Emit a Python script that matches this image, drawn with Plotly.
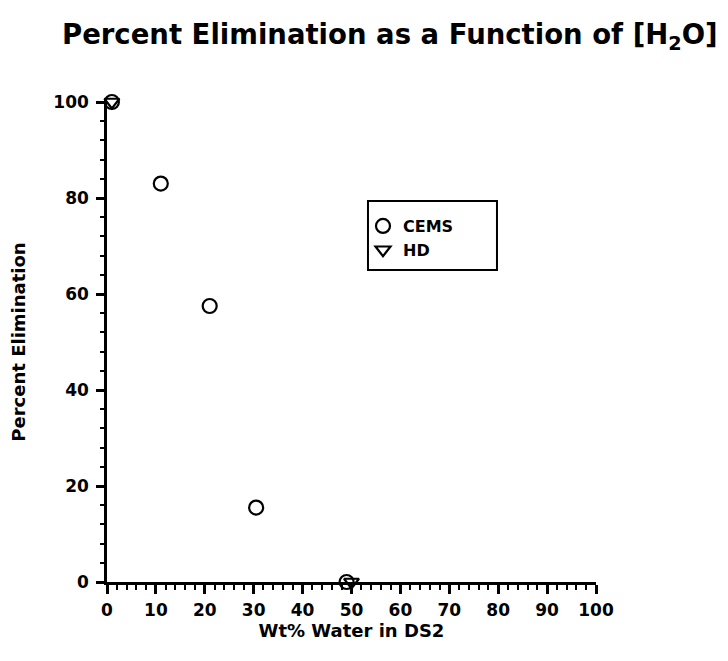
import plotly.graph_objects as go

# Data
cems_x = [1, 11, 21, 30.5, 49]
cems_y = [100, 83, 57.5, 15.5, 0]
hd_x = [1, 50]
hd_y = [100, 0]

x_ticks = [0, 10, 20, 30, 40, 50, 60, 70, 80, 90, 100]
y_ticks = [0, 20, 40, 60, 80, 100]

fig = go.Figure()
fig.add_trace(go.Scatter(
    x=cems_x, y=cems_y, mode="markers", name="CEMS",
    marker=dict(symbol="circle-open", size=14, color="black", line=dict(width=2.2)),
    cliponaxis=False,
))
fig.add_trace(go.Scatter(
    x=hd_x, y=hd_y, mode="markers", name="HD",
    marker=dict(symbol="triangle-down-open", size=13, color="black", line=dict(width=2.2)),
    cliponaxis=False,
))

tick_font = dict(family="DejaVu Sans", size=17, color="black", weight="bold")
lab_font = dict(family="DejaVu Sans", size=18, color="black", weight="bold")

fig.update_layout(
    width=720, height=653,
    paper_bgcolor="white", plot_bgcolor="white",
    margin=dict(l=99, r=132, t=94, b=79, autoexpand=False),
    title=dict(
        text="Percent Elimination as a Function of [H<sub>2</sub>O]",
        font=dict(family="DejaVu Sans", size=27.5, color="black", weight="bold"),
        x=0.075, xanchor="left", y=0.96, yanchor="middle",
    ),
    showlegend=True,
    legend=dict(
        x=0.5235, y=0.777, xanchor="left", yanchor="top",
        borderwidth=0, bgcolor="rgba(0,0,0,0)",
        font=dict(family="DejaVu Sans", size=16, color="black", weight="bold"),
        itemwidth=30,
    ),
    shapes=[dict(
        type="rect", xref="paper", yref="paper",
        x0=0.5337, x1=0.7975, y0=0.65, y1=0.794,
        line=dict(color="black", width=2), fillcolor="rgba(0,0,0,0)", layer="below",
    )],
    xaxis=dict(
        range=[0, 100], tickvals=x_ticks, ticktext=[str(v) for v in x_ticks],
        showgrid=False, zeroline=False, showline=True, linecolor="black", linewidth=2.5,
        ticks="outside", ticklen=9, tickwidth=2.5, tickcolor="black",
        minor=dict(dtick=2, ticks="outside", ticklen=5, tickwidth=2, tickcolor="black", showgrid=False),
        tickfont=tick_font, ticklabelstandoff=2, automargin=False,
        title=dict(text="Wt% Water in DS2", font=lab_font, standoff=4),
    ),
    yaxis=dict(
        range=[0, 100], tickvals=y_ticks, ticktext=[str(v) for v in y_ticks],
        showgrid=False, zeroline=False, showline=True, linecolor="black", linewidth=2.5,
        ticks="outside", ticklen=8, tickwidth=2.5, tickcolor="black",
        minor=dict(dtick=4, ticks="outside", ticklen=4, tickwidth=2, tickcolor="black", showgrid=False),
        tickfont=tick_font, ticklabelstandoff=4, automargin=False,
        title=dict(text="Percent Elimination", font=lab_font, standoff=26),
    ),
)

fig.write_html("out.html")
